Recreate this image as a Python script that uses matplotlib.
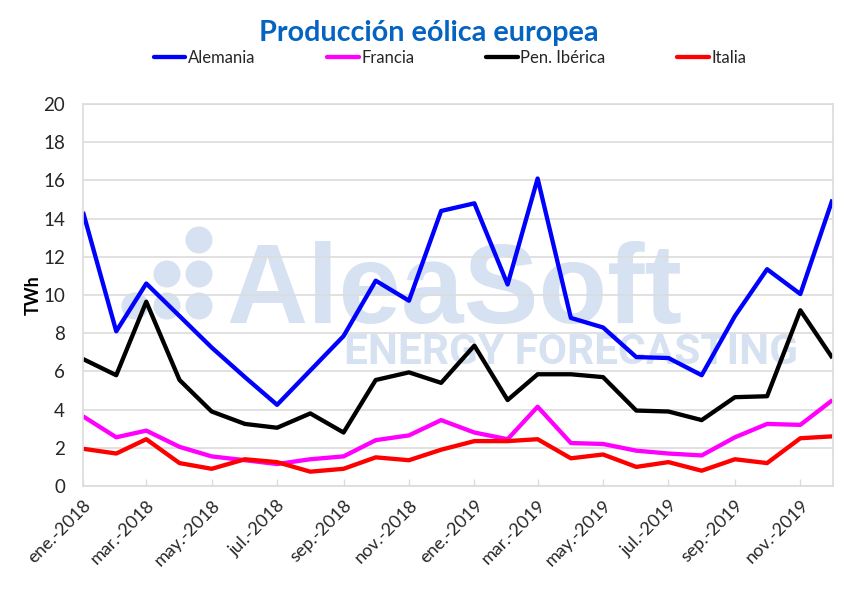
import datetime as dt
import matplotlib
matplotlib.use('Agg')
from matplotlib import pyplot as plt
from matplotlib.patches import Circle

#-- DATA
months = [dt.date(y, m, 1) for y in (2018, 2019) for m in range(1, 13)]
alemania = [14.35, 8.1, 10.6, 8.9, 7.25, 5.7, 4.25, 6.05, 7.85, 10.75, 9.7, 14.4,
            14.8, 10.55, 16.1, 8.8, 8.3, 6.75, 6.7, 5.8, 8.9, 11.35, 10.05, 15.0]
francia = [3.65, 2.55, 2.9, 2.05, 1.55, 1.35, 1.15, 1.4, 1.55, 2.4, 2.65, 3.45,
           2.8, 2.45, 4.15, 2.25, 2.2, 1.85, 1.7, 1.6, 2.55, 3.25, 3.2, 4.5]
iberica = [6.65, 5.8, 9.65, 5.55, 3.9, 3.25, 3.05, 3.8, 2.8, 5.55, 5.95, 5.4,
           7.35, 4.5, 5.85, 5.85, 5.7, 3.95, 3.9, 3.45, 4.65, 4.7, 9.2, 6.7]
italia = [1.95, 1.7, 2.45, 1.2, 0.9, 1.4, 1.25, 0.75, 0.9, 1.5, 1.35, 1.9,
          2.35, 2.35, 2.45, 1.45, 1.65, 1.0, 1.25, 0.8, 1.4, 1.2, 2.5, 2.6]
month_names = ['ene.', 'feb.', 'mar.', 'abr.', 'may.', 'jun.',
               'jul.', 'ago.', 'sep.', 'oct.', 'nov.', 'dic.']
tick_months = months[::2]
tick_labels = [month_names[d.month - 1] + '-' + str(d.year) for d in tick_months]
y_ticks = list(range(0, 21, 2))

W, H = 850, 589
GRID = '#dcdcdc'
TEXT = '#262626'
MARK = '#d6e2f1'

plt.rcParams['font.family'] = ['Lato', 'DejaVu Sans']

fig = plt.figure(figsize=(W / 100, H / 100), dpi=100)
ax = fig.add_axes([83 / W, 1 - 486 / H, (832.5 - 83) / W, (486 - 104) / H])

#-- WATERMARK
bg = fig.add_axes([0, 0, 1, 1], zorder=0)
bg.set_xlim(0, W)
bg.set_ylim(H, 0)
bg.axis('off')
ax.set_zorder(1)
ax.patch.set_alpha(0)
for cx, cy in [(199, 240), (167, 274), (199, 274), (135, 306), (167, 306), (199, 306)]:
    bg.add_patch(Circle((cx, cy), 13.5, color=MARK, lw=0))
bg.text(226, 323, 'AleaSoft', family='Liberation Sans', weight='bold', fontsize=81,
        color=MARK, ha='left', va='baseline')
bg.text(344, 364, 'ENERGY FORECASTING', family='Roboto', weight='bold', fontsize=30.5,
        color=MARK, ha='left', va='baseline')

#-- LINES
for vals, col, name in [(alemania, '#0000ff', 'Alemania'), (francia, '#ff00ff', 'Francia'),
                        (iberica, '#000000', 'Pen. Ibérica'), (italia, '#ff0000', 'Italia')]:
    ax.plot(months, vals, color=col, lw=3.1, label=name, solid_joinstyle='round',
            solid_capstyle='butt')

ax.set_xlim(months[0], months[-1])
ax.set_ylim(0, 20)
ax.set_yticks(y_ticks)
ax.set_xticks(tick_months)
ax.set_xticklabels(tick_labels, rotation=45, ha='right', rotation_mode='anchor')
ax.grid(axis='y', color=GRID, lw=1.2)
ax.set_axisbelow(True)
for s in ax.spines.values():
    s.set_color(GRID)
    s.set_linewidth(1.2)
ax.tick_params(axis='y', length=0, labelsize=13.5, labelcolor=TEXT, pad=13)
ax.tick_params(axis='x', direction='in', length=5, width=1, color=GRID,
               labelsize=13, labelcolor=TEXT, pad=8)
ax.set_ylabel('TWh', fontsize=13, weight='bold', color='black', va='center')
ax.yaxis.set_label_coords((33 - 83) / (832.5 - 83), 0.5)

#-- TITLE AND LEGEND
fig.text(429 / W, 1 - 41 / H, 'Producción eólica europea', fontsize=20.7, weight='bold',
         color='#0563c1', ha='center', va='baseline')
handles, labels = ax.get_legend_handles_labels()
leg = fig.legend(handles, labels, ncol=4, loc='center', bbox_to_anchor=(450 / W, 1 - 58 / H),
                 frameon=False, fontsize=12, handlelength=1.9, handletextpad=0.15,
                 columnspacing=4.3, labelcolor=TEXT)
for h in leg.get_lines():
    h.set_solid_capstyle('round')

fig.savefig('out.png', dpi=100)
